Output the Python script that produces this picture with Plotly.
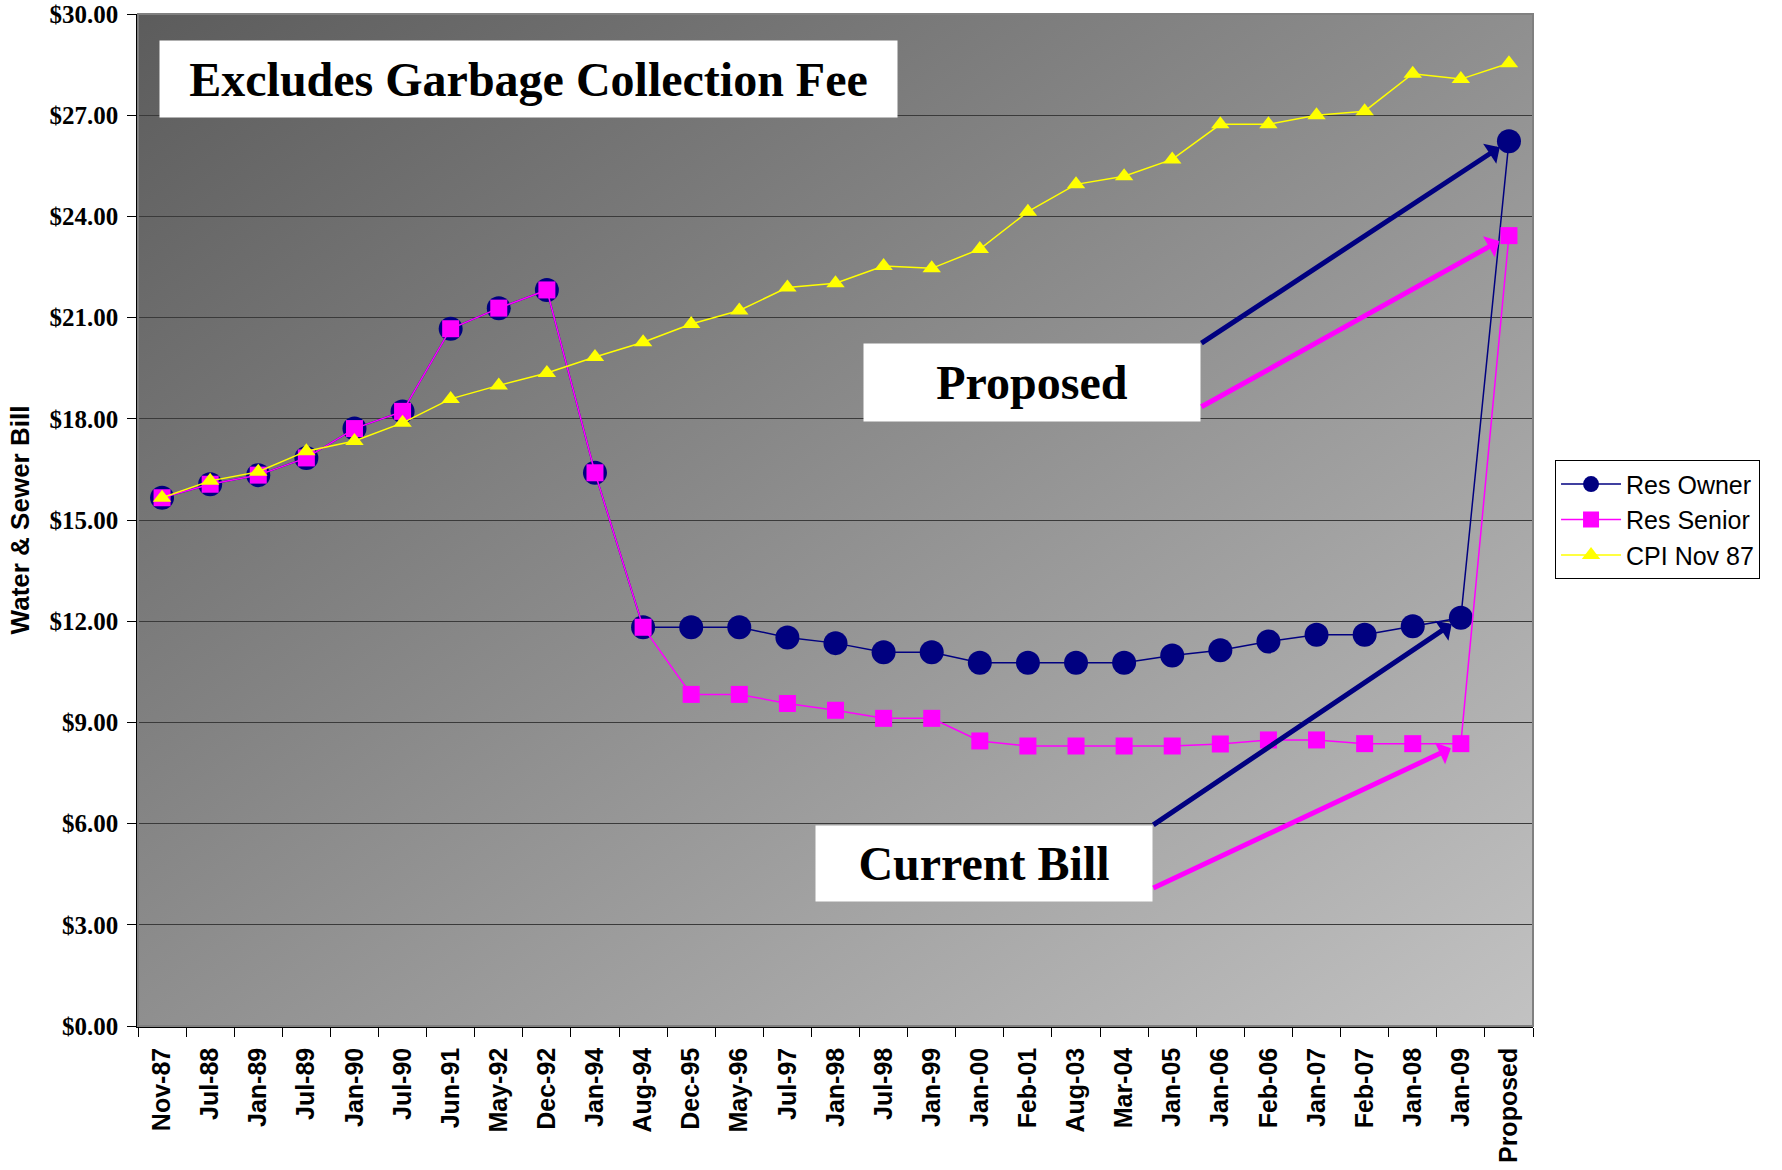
import base64
import plotly.graph_objects as go

categories = ["Nov-87", "Jul-88", "Jan-89", "Jul-89", "Jan-90", "Jul-90", "Jun-91", "May-92",
              "Dec-92", "Jan-94", "Aug-94", "Dec-95", "May-96", "Jul-97", "Jan-98", "Jul-98",
              "Jan-99", "Jan-00", "Feb-01", "Aug-03", "Mar-04", "Jan-05", "Jan-06", "Feb-06",
              "Jan-07", "Feb-07", "Jan-08", "Jan-09", "Proposed"]

res_owner = [15.66, 16.06, 16.33, 16.84, 17.71, 18.22, 20.67, 21.28, 21.82, 16.40, 11.82,
             11.82, 11.82, 11.52, 11.35, 11.08, 11.08, 10.77, 10.77, 10.77, 10.77, 10.98,
             11.14, 11.40, 11.60, 11.60, 11.85, 12.10, 26.23]

res_senior = [15.66, 16.06, 16.33, 16.84, 17.71, 18.22, 20.67, 21.28, 21.82, 16.40, 11.82,
              9.83, 9.83, 9.56, 9.36, 9.12, 9.12, 8.45, 8.30, 8.30, 8.30, 8.30, 8.36, 8.48,
              8.48, 8.37, 8.37, 8.37, 23.43]

cpi_nov87 = [15.66, 16.16, 16.43, 17.04, 17.34, 17.88, 18.59, 18.99, 19.36, 19.83, 20.27,
             20.81, 21.21, 21.89, 22.02, 22.53, 22.46, 23.03, 24.14, 24.95, 25.19, 25.69,
             26.73, 26.73, 27.00, 27.12, 28.23, 28.07, 28.54]

NAVY = "#000080"
MAGENTA = "#FF00FF"
YELLOW = "#FFFF00"

fig = go.Figure()
fig.add_trace(go.Scatter(x=categories, y=res_owner, name="Res Owner", mode="lines+markers",
                         line=dict(color=NAVY, width=1.5),
                         marker=dict(symbol="circle", size=24, color=NAVY),
                         legendgroup="a"))
fig.add_trace(go.Scatter(x=categories, y=res_senior, name="Res Senior", mode="lines+markers",
                         line=dict(color=MAGENTA, width=1.5),
                         marker=dict(symbol="square", size=17, color=MAGENTA),
                         legendgroup="b"))
fig.add_trace(go.Scatter(x=categories, y=cpi_nov87, name="CPI Nov 87", mode="lines+markers",
                         line=dict(color=YELLOW, width=1.5),
                         marker=dict(symbol="triangle-up", size=16, color=YELLOW),
                         legendgroup="c"))

svg = ('<svg xmlns="http://www.w3.org/2000/svg" width="100" height="100" viewBox="0 0 100 100" '
       'preserveAspectRatio="none"><defs><linearGradient id="g" x1="0" y1="0" x2="1" y2="1">'
       '<stop offset="0" stop-color="#5c5c5c"/><stop offset="1" stop-color="#c2c2c2"/>'
       '</linearGradient></defs><rect width="100" height="100" fill="url(#g)"/></svg>')
src = "data:image/svg+xml;base64," + base64.b64encode(svg.encode()).decode()

serif_bold = dict(family="Liberation Serif", size=48, color="black", weight="bold")

annotations = [
    dict(xref="paper", yref="paper", x=0.2802, y=0.9358, xanchor="center", yanchor="middle",
         text="Excludes Garbage Collection Fee", showarrow=False, bgcolor="white",
         width=737, height=76, borderpad=0, font=serif_bold),
    dict(xref="paper", yref="paper", x=0.641, y=0.6359, xanchor="center", yanchor="middle",
         text="Proposed", showarrow=False, bgcolor="white",
         width=336, height=77, borderpad=0, font=serif_bold),
    dict(xref="paper", yref="paper", x=0.6066, y=0.1606, xanchor="center", yanchor="middle",
         text="Current Bill", showarrow=False, bgcolor="white",
         width=336, height=75, borderpad=0, font=serif_bold),
]

arrow_specs = [
    (categories[-1], res_owner[-1], NAVY, -309, 203),
    (categories[-1], res_senior[-1], MAGENTA, -309, 172),
    (categories[-2], res_owner[-2], NAVY, -309, 208),
    (categories[-2], res_senior[-2], MAGENTA, -309, 145),
]
for xv, yv, col, ax, ay in arrow_specs:
    annotations.append(dict(x=xv, y=yv, xref="x", yref="y", text="", showarrow=True,
                            ax=ax, ay=ay, axref="pixel", ayref="pixel",
                            arrowcolor=col, arrowwidth=5, arrowhead=1, arrowsize=0.8,
                            standoff=11))

fig.update_layout(
    width=1782, height=1170,
    margin=dict(l=138, r=249, t=14, b=144),
    paper_bgcolor="white",
    plot_bgcolor="rgba(0,0,0,0)",
    images=[dict(source=src, xref="paper", yref="paper", x=0, y=1, sizex=1, sizey=1,
                 xanchor="left", yanchor="top", sizing="stretch", layer="below")],
    showlegend=True,
    legend=dict(x=1.0158, y=0.559, xanchor="left", yanchor="top",
                bgcolor="white", bordercolor="black", borderwidth=1,
                font=dict(family="Liberation Sans", size=25, color="black"),
                itemwidth=60, tracegroupgap=12, traceorder="normal"),
    annotations=annotations,
    shapes=[dict(type="rect", xref="paper", yref="paper", x0=0, y0=0, x1=1, y1=1,
                 line=dict(color="#808080", width=2), layer="above")],
)

fig.update_xaxes(type="category", range=[-0.5, len(categories) - 0.5], automargin=False,
                 tickangle=-90, tickson="boundaries", ticks="outside", ticklen=9,
                 ticklabelstandoff=10,
                 tickcolor="black", showline=True, linecolor="black", linewidth=1.5,
                 showgrid=False, zeroline=False,
                 tickfont=dict(family="Liberation Sans", size=25, color="black", weight="bold"))
fig.update_yaxes(range=[0, 30], dtick=3, tick0=0, tickformat="$.2f", ticks="outside",
                 automargin=False, ticklabelstandoff=4,
                 ticklen=9, tickcolor="black", showline=True, linecolor="black", linewidth=1.5,
                 showgrid=True, gridcolor="#3a3a3a", gridwidth=1, zeroline=False,
                 tickfont=dict(family="Liberation Serif", size=25, color="black", weight="bold"),
                 title=dict(text="Water & Sewer Bill", standoff=12,
                            font=dict(family="Liberation Sans", size=26, color="black",
                                      weight="bold")))

fig.write_html("out.html", config={"displayModeBar": False},
               post_script="document.body.style.margin='0px';")
